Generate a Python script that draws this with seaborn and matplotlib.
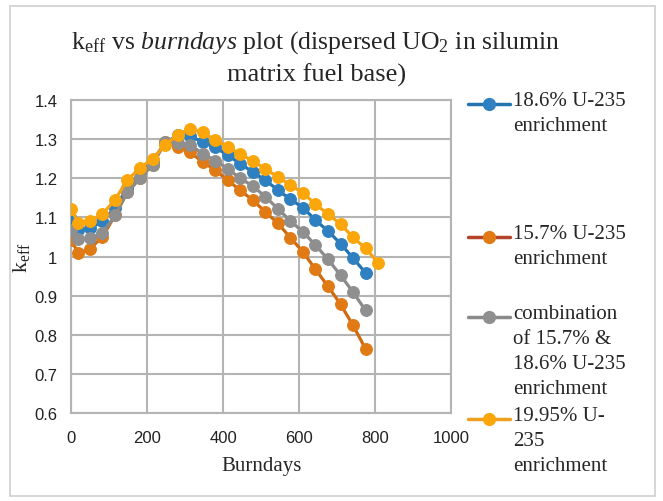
import matplotlib
matplotlib.use("Agg")
import matplotlib.pyplot as plt
import seaborn as sns
import pandas as pd
from matplotlib.lines import Line2D
from matplotlib.patches import Rectangle

# ---- data ----
days = [0, 18, 49, 82, 115, 148, 181, 214, 247, 280, 313, 346, 379, 412,
        445, 478, 511, 544, 577, 610, 643, 676, 709, 742, 775]
days_1995 = days + [808]

k_186 = [1.097, 1.068, 1.072, 1.090, 1.125, 1.175, 1.215, 1.245, 1.290, 1.310,
         1.307, 1.293, 1.279, 1.259, 1.237, 1.216, 1.195, 1.170, 1.146, 1.125,
         1.093, 1.065, 1.033, 0.996, 0.958]
k_157 = [1.043, 1.008, 1.020, 1.050, 1.105, 1.165, 1.200, 1.235, 1.292, 1.280,
         1.266, 1.242, 1.221, 1.195, 1.169, 1.144, 1.114, 1.085, 1.048, 1.012,
         0.967, 0.924, 0.878, 0.824, 0.764]
k_comb = [1.068, 1.045, 1.047, 1.060, 1.105, 1.165, 1.200, 1.235, 1.292, 1.290,
          1.285, 1.263, 1.245, 1.224, 1.200, 1.180, 1.153, 1.122, 1.091, 1.063,
          1.029, 0.993, 0.952, 0.909, 0.862]
k_1995 = [1.122, 1.085, 1.092, 1.108, 1.145, 1.196, 1.226, 1.250, 1.285, 1.311,
          1.327, 1.317, 1.298, 1.280, 1.262, 1.244, 1.224, 1.203, 1.183, 1.162,
          1.134, 1.108, 1.083, 1.049, 1.021, 0.984]

series_names = ["18.6% U-235 enrichment", "15.7% U-235 enrichment",
                "combination of 15.7% & 18.6% U-235 enrichment",
                "19.95% U-235 enrichment"]
legend_labels = ["18.6% U-235\nenrichment", "15.7% U-235\nenrichment",
                 "combination\nof 15.7% &\n18.6% U-235\nenrichment",
                 "19.95% U-\n235\nenrichment"]
x_ticks = [0, 200, 400, 600, 800, 1000]
y_ticks = [0.6, 0.7, 0.8, 0.9, 1.0, 1.1, 1.2, 1.3, 1.4]
y_tick_labels = ["0.6", "0.7", "0.8", "0.9", "1", "1.1", "1.2", "1.3", "1.4"]

frames = []
for name, xs, ys in zip(series_names, [days, days, days, days_1995],
                        [k_186, k_157, k_comb, k_1995]):
    frames.append(pd.DataFrame({"Burndays": xs, "keff": ys, "series": name}))
df = pd.concat(frames, ignore_index=True)

marker_colors = ["#2E80C0", "#E07A14", "#8F8F8F", "#FBA60A"]
line_colors = ["#2474B0", "#CF6A10", "#8A8A8A", "#F6A312"]

# ---- styling ----
sns.set_style("white")
plt.rcParams["font.family"] = ["Liberation Sans", "DejaVu Sans"]
plt.rcParams["mathtext.fontset"] = "custom"
plt.rcParams["mathtext.rm"] = "Liberation Serif"
plt.rcParams["mathtext.it"] = "Liberation Serif:italic"

fig = plt.figure(figsize=(6.63, 5.02), dpi=100)
fig.patch.set_facecolor("white")
ax = fig.add_axes([71.3 / 663, 1 - 414 / 502, (451 - 71.3) / 663, (414 - 101) / 502])

for i, name in enumerate(series_names):
    sub = df[df["series"] == name]
    sns.lineplot(data=sub, x="Burndays", y="keff", ax=ax, color=line_colors[i],
                 marker="o", markersize=8.5, markerfacecolor=marker_colors[i],
                 markeredgecolor=marker_colors[i], linewidth=2.3, legend=False,
                 zorder=3 + i)

ax.set_xlim(0, 1000)
ax.set_ylim(0.6, 1.4)
ax.set_xticks(x_ticks)
ax.set_yticks(y_ticks)
ax.set_xticklabels([str(t) for t in x_ticks], fontsize=12, color="#222222")
ax.set_yticklabels(y_tick_labels, fontsize=12, color="#222222")
ax.tick_params(axis="x", length=0, pad=12)
ax.tick_params(axis="y", length=0, pad=10)
ax.grid(True, color="#b4b4b4", linewidth=1.5)
ax.set_axisbelow(True)
for s in ax.spines.values():
    s.set_color("#b4b4b4")
    s.set_linewidth(1.5)

ax.set_xlabel("Burndays", fontsize=15, family="Liberation Serif", labelpad=8)
ax.set_ylabel(r"k$_{\mathrm{eff}}$", fontsize=16, family="Liberation Serif", labelpad=2)

# title
fig.text(316 / 663, 1 - 43 / 502,
         r"k$_{\mathrm{eff}}$ vs $\mathit{burndays}$ plot (dispersed UO$_2$ in silumin",
         ha="center", va="center", fontsize=18.5, family="Liberation Serif")
fig.text(317 / 663, 1 - 75 / 502, "matrix fuel base)",
         ha="center", va="center", fontsize=19, family="Liberation Serif")

# legend (Excel-style, entries aligned to first text line)
legend_y = [105, 238, 318, 420]
legend_line_colors = ["#2474B0", "#B5452A", "#8A8A8A", "#F0A020"]
for lbl, y, lc, mc in zip(legend_labels, legend_y, legend_line_colors, marker_colors):
    yf = 1 - y / 502
    fig.add_artist(Line2D([468 / 663, 510 / 663], [yf, yf], color=lc, linewidth=2.5,
                          transform=fig.transFigure))
    fig.add_artist(Line2D([489 / 663], [yf], marker="o", markersize=8.5,
                          color=mc, transform=fig.transFigure))
    fig.text(513 / 663, yf + 13 / 502, lbl, ha="left", va="top", fontsize=15,
             family="Liberation Serif", linespacing=1.42)

# outer chart frame
fig.add_artist(Rectangle((10 / 663, 5 / 502), 645 / 663, 490 / 502, fill=False,
                         edgecolor="#d0d0d0", linewidth=1.2, transform=fig.transFigure))

fig.savefig("out.png", dpi=100)
